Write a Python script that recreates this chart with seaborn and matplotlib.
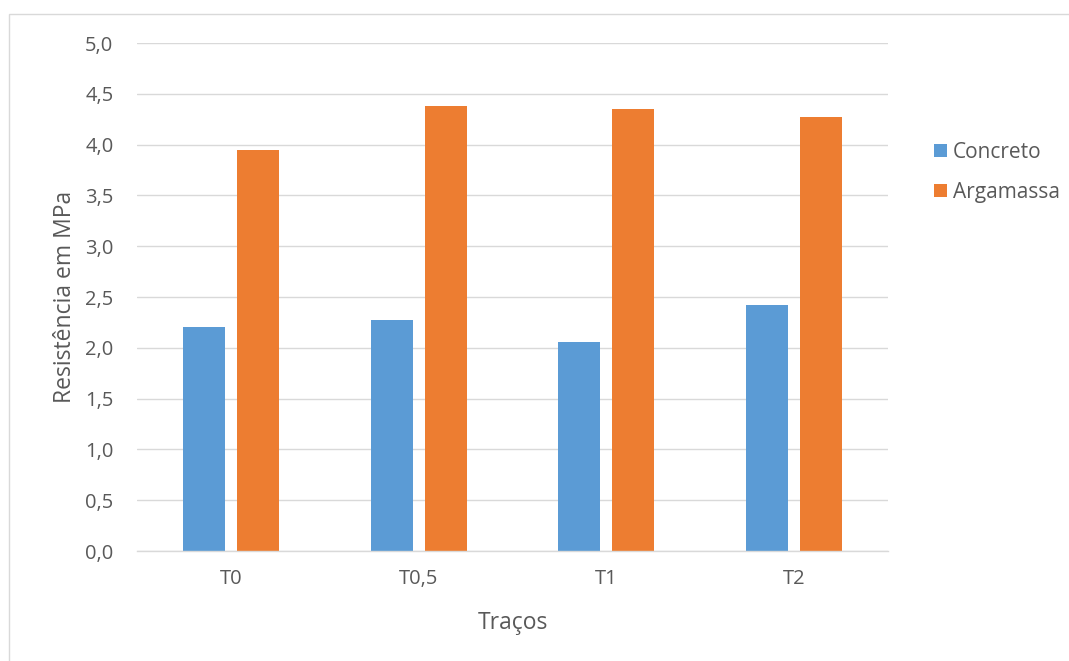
import matplotlib
matplotlib.use("Agg")
import matplotlib.pyplot as plt
import matplotlib.patches as mpatches
from matplotlib.ticker import FuncFormatter, MultipleLocator
import seaborn as sns
import pandas as pd

tracos = ["T0", "T0,5", "T1", "T2"]
concreto = [2.20, 2.27, 2.06, 2.42]
argamassa = [3.95, 4.38, 4.35, 4.27]
series = ["Concreto", "Argamassa"]
colors = ["#5B9BD5", "#ED7D31"]

df = pd.DataFrame({
    "Traço": tracos * 2,
    "Resistência": concreto + argamassa,
    "Série": [series[0]] * len(tracos) + [series[1]] * len(tracos),
})

sns.set_theme(style="white")
plt.rcParams["font.family"] = ["Open Sans", "DejaVu Sans"]
text_color = "#595959"

fig = plt.figure(figsize=(10.69, 6.61), dpi=100)
ax = fig.add_axes([137 / 1069, 1 - 551 / 661, (888 - 137) / 1069, (551 - 43) / 661])

sns.barplot(data=df, x="Traço", y="Resistência", hue="Série",
            palette=colors, width=0.574, gap=0.222, ax=ax,
            edgecolor="none", linewidth=0, errorbar=None, saturation=1)

ax.set_ylim(0, 5)
ax.yaxis.set_major_locator(MultipleLocator(0.5))
ax.yaxis.set_major_formatter(FuncFormatter(lambda v, p: f"{v:.1f}".replace(".", ",")))
ax.grid(axis="y", color="#D9D9D9", linewidth=1)
ax.set_axisbelow(True)
for s in ["top", "right", "left"]:
    ax.spines[s].set_visible(False)
ax.spines["bottom"].set_color("#D9D9D9")
ax.spines["bottom"].set_linewidth(1)

ax.tick_params(axis="both", length=0, labelsize=14.5, colors=text_color)
ax.tick_params(axis="y", pad=17)
ax.tick_params(axis="x", pad=13)

ax.set_xlabel("Traços", fontsize=16.5, color=text_color, labelpad=16)
ax.set_ylabel("Resistência em MPa", fontsize=16.5, color=text_color, labelpad=6)

leg = ax.legend(loc="upper left", bbox_to_anchor=(1.048, 0.826), frameon=False,
                fontsize=15, handlelength=0.6, handleheight=0.6,
                handletextpad=0.3, labelspacing=0.9, borderpad=0)
for t in leg.get_texts():
    t.set_color(text_color)

# outer chart frame
fig.patches.append(mpatches.Rectangle((9 / 1069, -0.01), 1.1, 1 - 14 / 661 + 0.01,
                                      transform=fig.transFigure, fill=False,
                                      edgecolor="#D9D9D9", linewidth=1))

fig.savefig("out.png", dpi=100, facecolor="white")
